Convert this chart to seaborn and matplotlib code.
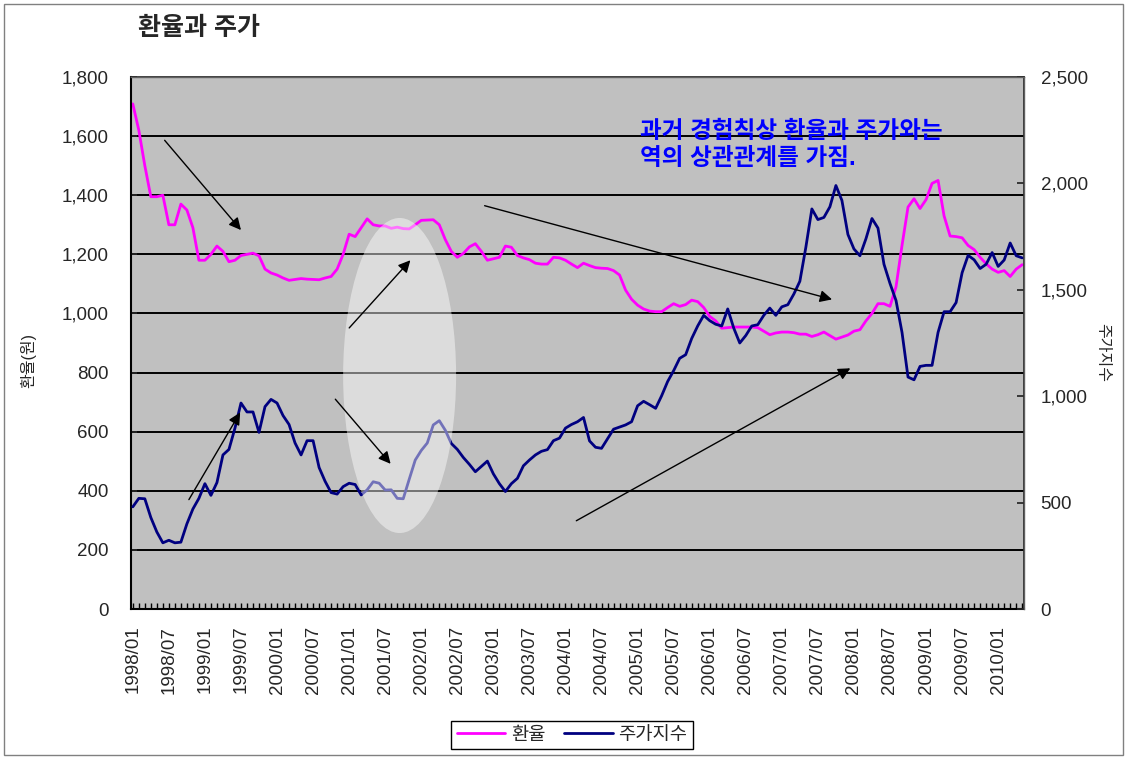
import numpy as np
import pandas as pd
import seaborn as sns
import matplotlib.pyplot as plt
from matplotlib.patches import Ellipse, Rectangle
from matplotlib.ticker import FuncFormatter, MultipleLocator

# monthly data, 1998/01 .. 2010/05
fx_rate = [
    1709, 1620, 1500, 1395, 1395, 1400, 1300, 1300, 1370, 1350,
    1290, 1180, 1180, 1200, 1228, 1210, 1175, 1180, 1196, 1200,
    1204, 1195, 1150, 1137, 1130, 1120, 1112, 1115, 1118, 1116,
    1115, 1114, 1120, 1125, 1150, 1200, 1268, 1260, 1290, 1320,
    1300, 1296, 1296, 1288, 1292, 1287, 1286, 1300, 1315, 1316,
    1317, 1300, 1250, 1210, 1190, 1203, 1225, 1236, 1210, 1180,
    1185, 1190, 1228, 1224, 1196, 1188, 1182, 1170, 1167, 1167,
    1190, 1188, 1180, 1167, 1155, 1170, 1162, 1155, 1153, 1152,
    1145, 1130, 1079, 1048, 1028, 1015, 1008, 1006, 1006, 1020,
    1033, 1024, 1030, 1045, 1040, 1020, 990, 975, 950, 952,
    954, 954, 954, 954, 952, 940, 928, 934, 937, 937,
    935, 930, 930, 922, 928, 937, 925, 913, 920, 927,
    940, 945, 975, 1000, 1033, 1033, 1024, 1090, 1230, 1360,
    1388, 1355, 1385, 1440, 1450, 1330, 1262, 1260, 1256, 1230,
    1216, 1190, 1168, 1150, 1139, 1145, 1125, 1150, 1165,
]

kospi = [
    480, 520, 518, 430, 362, 311, 323, 311, 314, 400,
    470, 520, 589, 534, 594, 724, 750, 850, 968, 926,
    926, 830, 951, 985, 968, 909, 867, 780, 724, 791,
    791, 665, 600, 547, 540, 575, 591, 585, 536, 560,
    598, 591, 559, 560, 520, 518, 610, 700, 745, 780,
    865, 885, 840, 778, 750, 712, 680, 645, 670, 695,
    635, 589, 552, 589, 614, 673, 700, 724, 741, 749,
    791, 803, 850, 867, 880, 900, 790, 760, 755, 800,
    845, 855, 865, 880, 955, 976, 960, 943, 1002, 1069,
    1120, 1178, 1195, 1271, 1330, 1380, 1355, 1338, 1330, 1410,
    1320, 1250, 1285, 1330, 1336, 1380, 1414, 1380, 1420, 1430,
    1480, 1540, 1700, 1880, 1830, 1840, 1890, 1990, 1920, 1760,
    1692, 1660, 1740, 1835, 1790, 1620, 1530, 1450, 1300, 1090,
    1077, 1140, 1145, 1145, 1300, 1397, 1397, 1440, 1580, 1662,
    1641, 1600, 1620, 1675, 1610, 1640, 1720, 1660, 1650,
]

tick_labels = [
    "1998/01", "1998/07", "1999/01", "1999/07", "2000/01", "2000/07",
    "2001/01", "2001/07", "2002/01", "2002/07", "2003/01", "2003/07",
    "2004/01", "2004/07", "2005/01", "2005/07", "2006/01", "2006/07",
    "2007/01", "2007/07", "2008/01", "2008/07", "2009/01", "2009/07",
    "2010/01",
]

df = pd.DataFrame({"month": np.arange(len(fx_rate)), "환율": fx_rate, "주가지수": kospi})

sns.set_theme(style="white")
plt.rcParams["font.family"] = ["Liberation Sans", "Noto Sans CJK KR", "DejaVu Sans"]

fig = plt.figure(figsize=(11.28, 7.58), dpi=100)
ax = fig.add_axes([131 / 1128, 1 - 609 / 758, 893 / 1128, 532 / 758])
ax.set_facecolor("#C0C0C0")
ax2 = ax.twinx()

sns.lineplot(data=df, x="month", y="환율", ax=ax, color="#FF00FF", lw=2, legend=False)
sns.lineplot(data=df, x="month", y="주가지수", ax=ax2, color="#000080", lw=2, legend=False)

# axes
ax.set_xlim(-0.3, 148.3)
ax.set_ylim(0, 1800)
ax2.set_ylim(0, 2500)
ax.set_xticks(np.arange(0, 145, 6))
ax.set_xticklabels(tick_labels, rotation=90)
ax.xaxis.set_minor_locator(MultipleLocator(1))
ax.yaxis.set_major_locator(MultipleLocator(200))
ax2.yaxis.set_major_locator(MultipleLocator(500))
ax.yaxis.set_major_formatter(FuncFormatter(lambda v, p: f"{int(v):,}"))
ax2.yaxis.set_major_formatter(FuncFormatter(lambda v, p: f"{int(v):,}"))
ax.grid(axis="y", color="black", lw=1.4)
ax.grid(axis="x", visible=False)
ax2.grid(False)

ax.tick_params(axis="x", which="both", direction="in", length=4, width=1, color="black",
               bottom=True, pad=12, labelsize=13.5)
ax.tick_params(axis="y", direction="in", length=4, left=True, pad=16, labelsize=13.5)
ax2.tick_params(axis="y", direction="in", length=5, right=True, pad=12, labelsize=13.5)
ax.set_xlabel("")
ax.set_ylabel("환율(원)", fontsize=11.5)
ax2.set_ylabel("주가지수", fontsize=11.5, rotation=270)
ax.yaxis.set_label_coords(-0.106, 0.468)
ax2.yaxis.set_label_coords(1.096, 0.483)

for s in ["left", "bottom"]:
    ax.spines[s].set_color("black")
    ax.spines[s].set_linewidth(1.5)
for s in ["top", "right"]:
    ax2.spines[s].set_color("#606060")
    ax2.spines[s].set_linewidth(1)
ax2.spines["left"].set_visible(False)
ax2.spines["bottom"].set_visible(False)

# highlight ellipse over the 2001 period
ell = Ellipse((44.4, 790), 18.8, 1066, transform=ax.transData,
              facecolor="white", edgecolor="none", alpha=0.45, zorder=3)
ax2.add_patch(ell)

arrows = [
    ((5.0, 1593), (18.3, 1275)),
    ((35.7, 944), (46.5, 1187)),
    ((33.4, 717), (43.2, 484)),
    ((9.1, 362), (18.1, 673)),
    ((58.1, 1367), (116.8, 1045)),
    ((73.4, 294), (119.8, 819)),
]
for start, end in arrows:
    ax2.annotate("", xy=end, xytext=start, xycoords=ax.transData, textcoords=ax.transData,
                 arrowprops=dict(arrowstyle="-|>", color="black", lw=1, mutation_scale=18),
                 zorder=4)

ax2.text(84.4, 1655, "과거 경험칙상 환율과 주가와는\n역의 상관관계를 가짐.",
         transform=ax.transData, ha="left", va="top", color="#0000FF",
         fontsize=17, fontweight="bold", linespacing=1.25, zorder=5)

fig.text(138 / 1128, 1 - 28 / 758, "환율과 주가", ha="left", va="center",
         fontsize=18, fontweight="bold")

handles = [ax.lines[0], ax2.lines[0]]
fig.legend(handles, ["환율", "주가지수"], loc="center", bbox_to_anchor=(572 / 1128, 1 - 735 / 758),
           ncol=2, frameon=True, fancybox=False, edgecolor="black", framealpha=1,
           fontsize=13.5, handlelength=2.6, columnspacing=1.0, handletextpad=0.3,
           borderpad=0.3, borderaxespad=0)

fig.patches.append(Rectangle((4 / 1128, 3 / 758), 1119 / 1128, 751 / 758, transform=fig.transFigure,
                             fill=False, edgecolor="#808080", lw=1))

fig.savefig("out.png", dpi=100)
